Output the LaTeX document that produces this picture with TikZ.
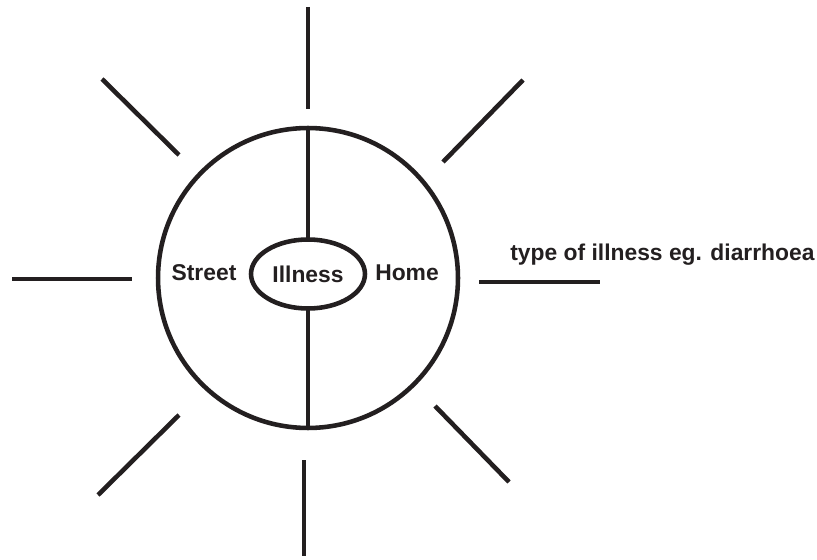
\documentclass[tikz,border=0pt]{standalone}
\usepackage{fontspec}
\setmainfont{Liberation Sans}
\usetikzlibrary{shapes.geometric}
\definecolor{inkblk}{HTML}{231F20}

\begin{document}
\begin{tikzpicture}[x=0.02cm, y=-0.02cm]
\tikzset{
  ray/.style={inkblk, line width=2.6pt},
  divider/.style={inkblk, line width=2pt},
  lbl/.style={text=inkblk, font=\fontsize{13}{15}\selectfont\bfseries, inner sep=0pt},
}

% Frame (px units, y downwards)
\useasboundingbox (0,0) rectangle (817,560);

% === Centre: circle with the illness in the middle ===
\node[circle, draw=inkblk, line width=2.6pt, minimum size=6cm, inner sep=0pt, outer sep=0pt] (zone) at (308,278) {};
\node[ellipse, draw=inkblk, line width=2.6pt, minimum width=2.28cm, minimum height=1.38cm, outer sep=0pt, lbl] (ill) at (308,274) {Illness};

% Split into street / home
\draw[divider] (zone.north) -- (ill.north);
\draw[divider] (ill.south) -- (zone.south);

\node[lbl] (street) at (204,273) {Street};
\node[lbl] (home) at (407,273) {Home};

% === Rays round the circle ===
\foreach \xa/\ya/\xb/\yb in {308/7/308/109,     % top
                             304/460/304/556,   % bottom
                             12/279/132/279,    % left
                             479/282/600/282,   % right
                             102/79/179/155,    % upper left
                             523/80/443/162,    % upper right
                             179/415/98/495,    % lower left
                             435/406/509/482}   % lower right
  \draw[ray] (\xa,\ya) -- (\xb,\yb);

% Example label on the right ray
\node[lbl, anchor=west] (kind) at (510,255) {type of illness eg. diarrhoea};

\end{tikzpicture}
\end{document}
